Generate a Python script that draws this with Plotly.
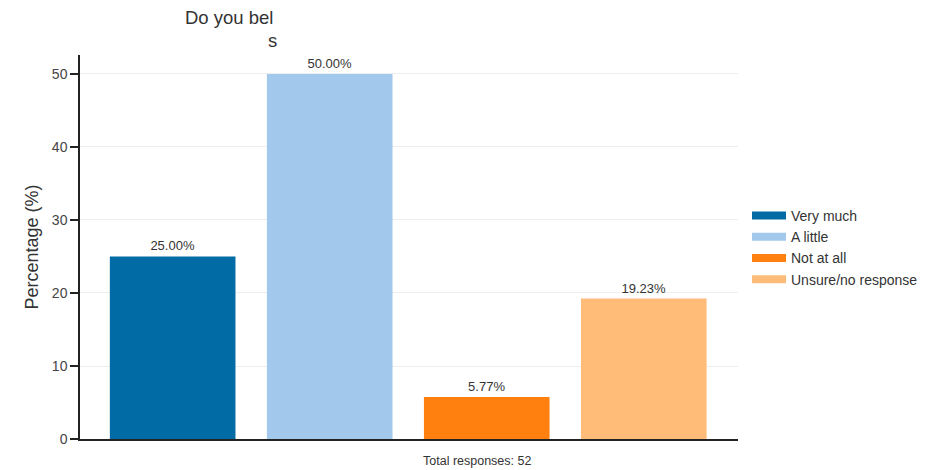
import plotly.graph_objects as go

categories = ["Very much", "A little", "Not at all", "Unsure/no response"]
values = [25.00, 50.00, 5.77, 19.23]
colors = ["#006BA4", "#A2C8EC", "#FF800E", "#FFBC79"]
yticks = [0, 10, 20, 30, 40, 50]
total = 52

fig = go.Figure()
for i, (c, v, col) in enumerate(zip(categories, values, colors)):
    fig.add_trace(go.Bar(
        x=[i], y=[v], width=0.8, marker=dict(color=col, line=dict(width=0)),
        text=[f"{v:.2f}%"], textposition="outside", cliponaxis=False,
        textfont=dict(size=13, color="#333333"), showlegend=False, name=c,
    ))
for c, col in zip(categories, colors):
    fig.add_trace(go.Scatter(x=[None], y=[None], mode="lines", name=c,
                             line=dict(color=col, width=8)))

font = "Liberation Sans, Arial, sans-serif"
# page has an 8px body margin: figure origin sits at (8, 8) in the window
L, T, R, B = 72, 47, 730, 431
W, H = 938, 462
PW, PH = R - L, B - T

fig.update_layout(
    width=W, height=H,
    margin=dict(l=L, r=W - R, t=T, b=H - B, autoexpand=False),
    paper_bgcolor="white", plot_bgcolor="white",
    font=dict(family=font, color="#333333"),
    xaxis=dict(range=[-0.59, 3.6], showticklabels=False, ticks="",
               showgrid=False, zeroline=False, showline=True,
               linecolor="#222222", linewidth=1.5),
    yaxis=dict(range=[0, 52.6], tickvals=yticks, ticks="outside", ticklen=8,
               tickcolor="#222222", tickwidth=1.5,
               tickfont=dict(size=14, color="#444444"),
               showgrid=True, gridcolor="#EEEEEE", gridwidth=1,
               zeroline=False, showline=True, linecolor="#222222", linewidth=1.5,
               title=dict(text="Percentage (%)", font=dict(size=18, color="#333333"), standoff=9)),
    legend=dict(x=1 + 9 / PW, y=1 - (197 - 5 - T) / PH, xanchor="left", yanchor="top",
                font=dict(size=14, color="#333333"), tracegroupgap=0,
                itemwidth=34, bgcolor="rgba(0,0,0,0)"),
)
fig.add_annotation(text="Do you bel", xref="paper", yref="paper",
                   x=(175 - L) / PW, y=1 + (T - 10) / PH, xanchor="left", yanchor="middle",
                   showarrow=False, font=dict(size=18.5, color="#333333"))
fig.add_annotation(text="s", xref="paper", yref="paper",
                   x=(258 - L) / PW, y=1 + (T - 32) / PH, xanchor="left", yanchor="middle",
                   showarrow=False, font=dict(size=18.5, color="#333333"))
fig.add_annotation(text=f"Total responses: {total}", xref="paper", yref="paper",
                   x=(469 - L) / PW, y=-(453 - B) / PH, xanchor="center", yanchor="middle",
                   showarrow=False, font=dict(size=12.5, color="#333333"))

fig.write_html("out.html")
